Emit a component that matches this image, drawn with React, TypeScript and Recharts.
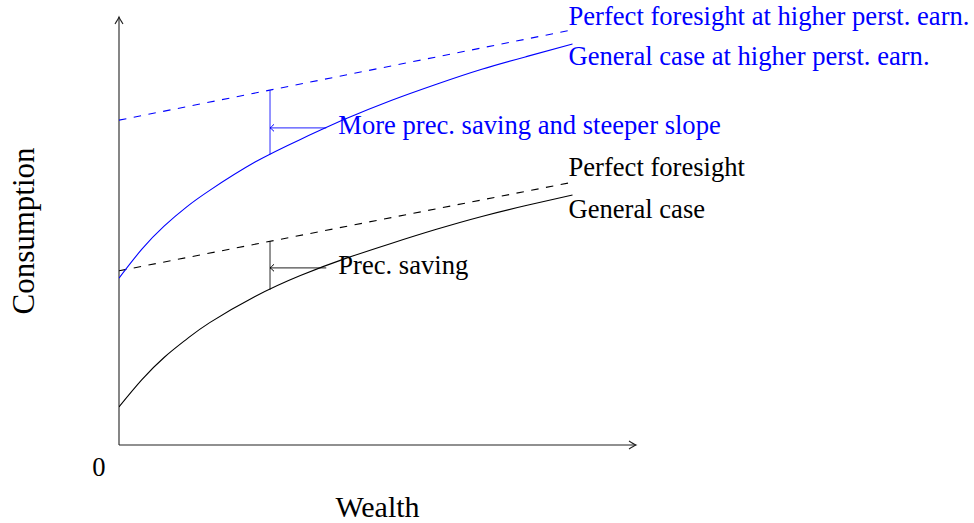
import { LineChart, Line, XAxis, YAxis, ReferenceLine, ReferenceDot } from "recharts";

const wealth = [0, 0.5, 1, 1.5, 2, 3, 4, 5, 6, 7, 8, 9, 10];
const generalCase = [0.89, 1.52, 2.05, 2.48, 2.86, 3.47, 3.96, 4.36, 4.71, 5.04, 5.34, 5.6, 5.84];
const generalCaseHigher = [3.9, 4.57, 5.12, 5.57, 5.95, 6.61, 7.14, 7.62, 8.05, 8.43, 8.78, 9.08, 9.37];
const foresightWealth = [0, 10];
const perfectForesight = [4.07, 6.14];
const perfectForesightHigher = [7.59, 9.7];

// annotation at wealth = 3.33: gap between foresight and general case
const markWealth = 3.33;
const arrowFrom = 4.57;
const precSaving = { low: 3.63, high: 4.76, arrowY: 4.14 };
const morePrecSaving = { low: 6.79, high: 8.29, arrowY: 7.41 };

const X_MAX = 11.4;
const Y_MAX = 10;
const FONT = "'Liberation Serif', 'Times New Roman', serif";
const BLUE = "#0000ff";
const LABEL_SIZE = 26.6;

const toPoints = (xs: number[], ys: number[]) => xs.map((x, i) => ({ x, y: ys[i] }));

function XAxisShape(props: any) {
  const { x1, y1, x2, y2 } = props;
  return (
    <g>
      <line x1={x1} y1={y1} x2={x2} y2={y2} stroke="#222" strokeWidth={1.1} />
      <path
        d={`M${x2 - 7},${y2 - 4} Q${x2 - 2},${y2 - 0.8} ${x2},${y2} Q${x2 - 2},${y2 + 0.8} ${x2 - 7},${y2 + 4}`}
        fill="none"
        stroke="#222"
        strokeWidth={1.1}
      />
      <text x={(x1 + x2) / 2} y={y1 + 72} textAnchor="middle" fontFamily={FONT} fontSize={30} fill="#000">
        Wealth
      </text>
      <text x={x1 - 20} y={y1 + 31} textAnchor="middle" fontFamily={FONT} fontSize={LABEL_SIZE} fill="#000">
        0
      </text>
    </g>
  );
}

function YAxisShape(props: any) {
  const { x1, y1, x2, y2 } = props;
  const top = Math.min(y1, y2);
  const bottom = Math.max(y1, y2);
  return (
    <g>
      <line x1={x1} y1={bottom} x2={x2} y2={top} stroke="#222" strokeWidth={1.1} />
      <path
        d={`M${x2 - 4},${top + 7} Q${x2 - 0.8},${top + 2} ${x2},${top} Q${x2 + 0.8},${top + 2} ${x2 + 4},${top + 7}`}
        fill="none"
        stroke="#222"
        strokeWidth={1.1}
      />
      <text
        x={x1 - 85}
        y={(top + bottom) / 2}
        textAnchor="middle"
        fontFamily={FONT}
        fontSize={31}
        fill="#000"
        transform={`rotate(-90 ${x1 - 85} ${(top + bottom) / 2})`}
      >
        Consumption
      </text>
    </g>
  );
}

function gapShape(color: string) {
  return (props: any) => {
    const { x1, y1, x2, y2 } = props;
    return <line x1={x1} y1={y1} x2={x2} y2={y2} stroke={color} strokeWidth={1.2} strokeOpacity={0.7} />;
  };
}

function arrowShape(color: string, label: string) {
  return (props: any) => {
    const { x1, y1, x2, y2 } = props;
    const tipX = Math.min(x1, x2);
    const tailX = Math.max(x1, x2);
    return (
      <g>
        <line x1={tailX} y1={y1} x2={tipX} y2={y2} stroke={color} strokeWidth={1.2} strokeOpacity={0.7} />
        <path
          d={`M${tipX + 4},${y1 - 3.5} Q${tipX + 1},${y1 - 0.6} ${tipX},${y1} Q${tipX + 1},${y1 + 0.6} ${tipX + 4},${y1 + 3.5}`}
          fill="none"
          stroke={color}
          strokeWidth={1}
        />
        <text x={tailX + 12} y={y1 + 6} fontFamily={FONT} fontSize={LABEL_SIZE} fill={color}>
          {label}
        </text>
      </g>
    );
  };
}

function endLabel(text: string, color: string, dy: number) {
  return (props: any) => (
    <text x={props.cx - 4} y={props.cy + dy} fontFamily={FONT} fontSize={LABEL_SIZE} fill={color}>
      {text}
    </text>
  );
}

export default function App() {
  const n = wealth.length - 1;
  return (
    <div style={{ position: "absolute", left: 0, top: 0, background: "#fff" }}>
      <LineChart width={974} height={523} margin={{ top: 17, right: 338, bottom: 78, left: 119 }}>
        <XAxis type="number" dataKey="x" domain={[0, X_MAX]} hide allowDataOverflow />
        <YAxis type="number" dataKey="y" domain={[0, Y_MAX]} hide allowDataOverflow />

        <ReferenceLine segment={[{ x: 0, y: 0 }, { x: X_MAX, y: 0 }]} shape={XAxisShape} ifOverflow="visible" />
        <ReferenceLine segment={[{ x: 0, y: 0 }, { x: 0, y: Y_MAX }]} shape={YAxisShape} ifOverflow="visible" />

        <Line
          data={toPoints(wealth, generalCase)}
          dataKey="y"
          type="natural"
          stroke="#000"
          strokeWidth={1.1}
          dot={false}
          isAnimationActive={false}
        />
        <Line
          data={toPoints(foresightWealth, perfectForesight)}
          dataKey="y"
          type="linear"
          stroke="#000"
          strokeWidth={1.1}
          strokeDasharray="7.5 7.5"
          dot={false}
          isAnimationActive={false}
        />
        <Line
          data={toPoints(wealth, generalCaseHigher)}
          dataKey="y"
          type="natural"
          stroke={BLUE}
          strokeWidth={1.1}
          dot={false}
          isAnimationActive={false}
        />
        <Line
          data={toPoints(foresightWealth, perfectForesightHigher)}
          dataKey="y"
          type="linear"
          stroke={BLUE}
          strokeWidth={1.1}
          strokeDasharray="7.5 7.5"
          dot={false}
          isAnimationActive={false}
        />

        <ReferenceLine
          segment={[{ x: markWealth, y: precSaving.low }, { x: markWealth, y: precSaving.high }]}
          shape={gapShape("#000")}
        />
        <ReferenceLine
          segment={[{ x: arrowFrom, y: precSaving.arrowY }, { x: markWealth, y: precSaving.arrowY }]}
          shape={arrowShape("#000", "Prec. saving")}
        />
        <ReferenceLine
          segment={[{ x: markWealth, y: morePrecSaving.low }, { x: markWealth, y: morePrecSaving.high }]}
          shape={gapShape(BLUE)}
        />
        <ReferenceLine
          segment={[{ x: arrowFrom, y: morePrecSaving.arrowY }, { x: markWealth, y: morePrecSaving.arrowY }]}
          shape={arrowShape(BLUE, "More prec. saving and steeper slope")}
        />

        <ReferenceDot
          x={foresightWealth[1]}
          y={perfectForesightHigher[1]}
          r={0}
          shape={endLabel("Perfect foresight at higher perst. earn.", BLUE, -5)}
        />
        <ReferenceDot
          x={wealth[n]}
          y={generalCaseHigher[n]}
          r={0}
          shape={endLabel("General case at higher perst. earn.", BLUE, 21)}
        />
        <ReferenceDot
          x={foresightWealth[1]}
          y={perfectForesight[1]}
          r={0}
          shape={endLabel("Perfect foresight", "#000", -6)}
        />
        <ReferenceDot x={wealth[n]} y={generalCase[n]} r={0} shape={endLabel("General case", "#000", 23)} />
      </LineChart>
    </div>
  );
}
